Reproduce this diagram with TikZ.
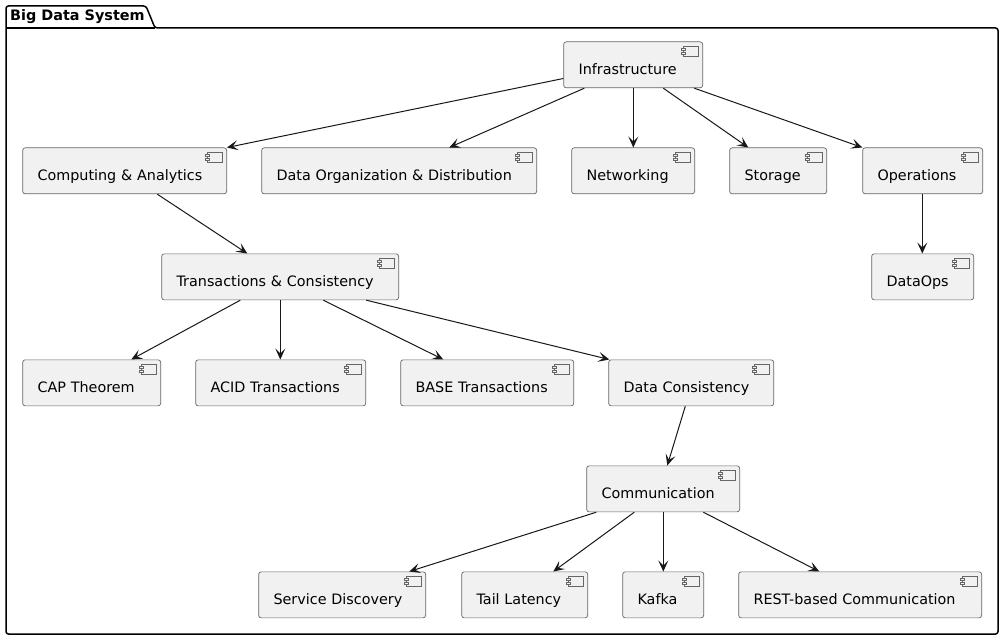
\documentclass[tikz,border=0pt]{standalone}
\usepackage{fontspec}
\setmainfont{DejaVu Sans}
\usetikzlibrary{calc,arrows.meta}
\definecolor{boxfill}{HTML}{F1F1F1}
\definecolor{boxline}{HTML}{666666}
\definecolor{edgeline}{HTML}{181818}
\tikzset{
  compbox/.style={draw=boxline,fill=boxfill,line width=0.7pt,rounded corners=2.5pt,
    inner xsep=14.9pt,inner ysep=0pt,text height=32.5pt,text depth=13.5pt,align=left,
    font=\fontsize{14.35}{16}\selectfont,text=black,xshift=0.3pt,yshift=0.5pt},
  icon/.style={draw=boxline,fill=boxfill,line width=0.7pt},
  conn/.style={draw=edgeline,line width=1pt,-{Stealth[length=11pt,width=10pt,inset=5pt]}},
  pkg/.style={draw=black,line width=1.5pt,fill=white,rounded corners=2.5pt},
  pkgtitle/.style={font=\bfseries\fontsize{14.4}{16}\selectfont,inner sep=0pt,text=black}
}
\newcommand{\comp}[5]{%
  \pgfmathsetlengthmacro{\cw}{(#4)-(#2)-29.8}%
  \node[compbox,text width=\cw,anchor=north west] (#1) at (#2,#3) {#5};
  \draw[icon] ($(#1.north east)+(-20,5)$) rectangle ($(#1.north east)+(-5,15)$);
  \draw[icon] ($(#1.north east)+(-22,7)$) rectangle ($(#1.north east)+(-18,9)$);
  \draw[icon] ($(#1.north east)+(-22,11)$) rectangle ($(#1.north east)+(-18,13)$);
}
\begin{document}
\begin{tikzpicture}[x=1pt,y=-1pt]
\useasboundingbox (0,0) rectangle (1004,639);
\draw[pkg] (6,28) -- (6,6) -- (146,6) -- (155,28) -- (998,28) -- (998,634) -- (6,634) -- cycle;
\draw[draw=black,line width=1.5pt] (6,28) -- (155,28);
\node[pkgtitle,anchor=base west] (title) at (10,21) {Big Data System};

\comp{inf}{563}{42}{702}{Infrastructure}
\comp{comp}{22}{148}{226}{Computing \& Analytics}
\comp{org}{261}{148}{536}{Data Organization \& Distribution}
\comp{net}{571}{148}{694}{Networking}
\comp{sto}{729}{148}{826}{Storage}
\comp{ops}{862}{148}{982}{Operations}
\comp{dops}{871}{254}{973}{DataOps}
\comp{tra}{161}{254}{398}{Transactions \& Consistency}
\comp{cap}{22}{360}{160}{CAP Theorem}
\comp{acid}{195}{360}{365}{ACID Transactions}
\comp{base}{400}{360}{573}{BASE Transactions}
\comp{dc}{608}{360}{773}{Data Consistency}
\comp{com}{586}{466}{739}{Communication}
\comp{sd}{258}{572}{425}{Service Discovery}
\comp{tail}{461}{572}{587}{Tail Latency}
\comp{kaf}{622}{572}{703}{Kafka}
\comp{rest}{738}{572}{981}{REST-based Communication}

\draw[conn] ($(inf.north west)+(0,37)$) -- (comp.north east);
\draw[conn] ($(inf.south west)+(21,0)$) -- ($(org.north west)+(188,0)$);
\draw[conn] ($(inf.south west)+(70,0)$) -- ($(net.north west)+(62,0)$);
\draw[conn] ($(inf.south west)+(100,0)$) -- ($(sto.north west)+(19,0)$);
\draw[conn] ($(inf.south west)+(131,0)$) -- (ops.north west);
\draw[conn] ($(ops.south west)+(60,0)$) -- ($(dops.north west)+(51,0)$);
\draw[conn] ($(comp.south west)+(135,0)$) -- ($(tra.north west)+(86,0)$);
\draw[conn] ($(tra.south west)+(79,0)$) -- ($(cap.north west)+(109,0)$);
\draw[conn] ($(tra.south west)+(119,0)$) -- ($(acid.north west)+(85,0)$);
\draw[conn] ($(tra.south west)+(162,0)$) -- ($(base.north west)+(43,0)$);
\draw[conn] ($(tra.south west)+(205,0)$) -- ($(dc.north west)+(1,0)$);
\draw[conn] ($(dc.south west)+(77,0)$) -- ($(com.north west)+(81,0)$);
\draw[conn] ($(com.south west)+(10,0)$) -- ($(sd.north west)+(151,0)$);
\draw[conn] ($(com.south west)+(48,0)$) -- ($(tail.north west)+(92,0)$);
\draw[conn] ($(com.south west)+(77,0)$) -- ($(kaf.north west)+(41,0)$);
\draw[conn] ($(com.south west)+(117,0)$) -- ($(rest.north west)+(81,0)$);
\end{tikzpicture}
\end{document}
